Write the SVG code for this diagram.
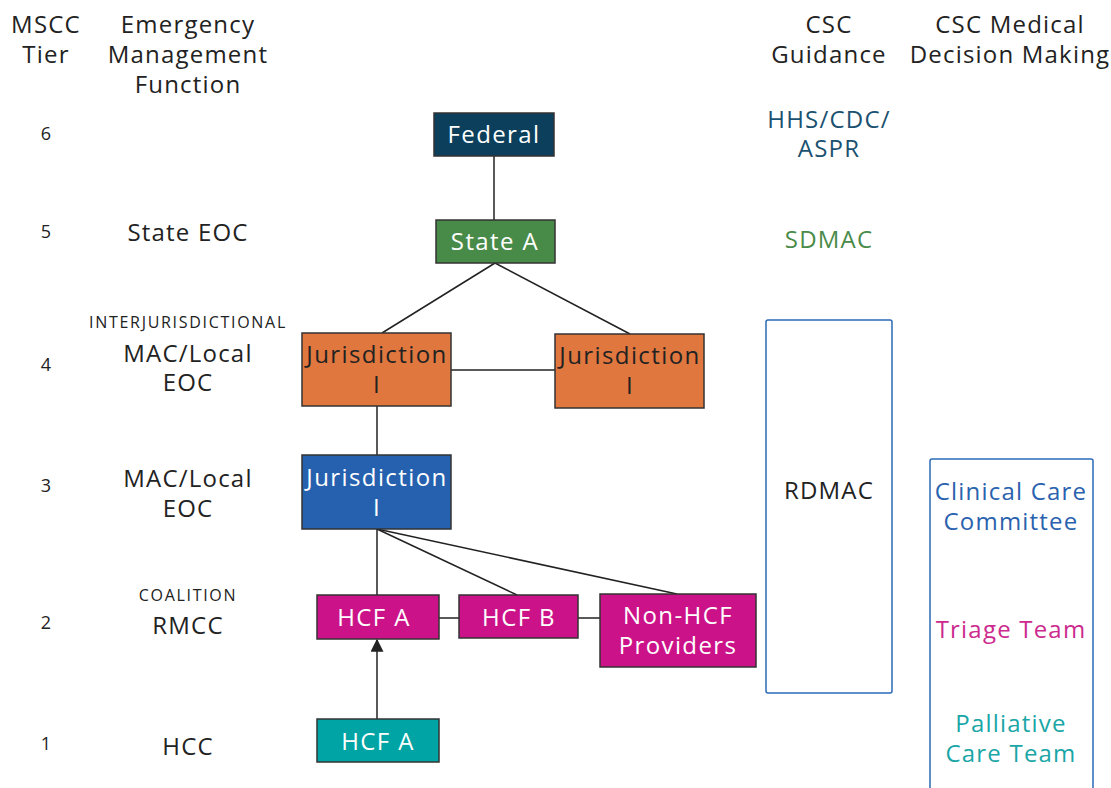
<svg xmlns="http://www.w3.org/2000/svg" width="1111" height="788" viewBox="0 0 1111 788">
<style>
text{font-family:"Open Sans","Liberation Sans",sans-serif;text-anchor:middle}
.h{font-size:24px;fill:#222;letter-spacing:1.2px}
.n{font-size:18px;fill:#222}
.s{font-size:16px;fill:#222;letter-spacing:1.7px}
.b{stroke:#333;stroke-width:1.5}
.lbl{font-size:24px;fill:#fff;letter-spacing:1.4px}
.dk{font-size:24px;fill:#222;letter-spacing:1.4px}
.c{stroke:#222;stroke-width:1.5;fill:none}
.fr{fill:none;stroke:#2a6bb8;stroke-width:1.5}
</style>
<defs>
<marker id="ah" viewBox="0 0 10 10" refX="9" refY="5" markerWidth="13" markerHeight="13" orient="auto" markerUnits="userSpaceOnUse">
<path d="M0,0L10,5L0,10z" fill="#222"/>
</marker>
</defs>
<rect width="1111" height="788" fill="#fff"/>
<g id="headers">
<text class="h" x="46" y="33">MSCC</text>
<text class="h" x="46" y="63">Tier</text>
<text class="h" x="188" y="33">Emergency</text>
<text class="h" x="188" y="63">Management</text>
<text class="h" x="188" y="93">Function</text>
<text class="h" x="829" y="33">CSC</text>
<text class="h" x="829" y="63">Guidance</text>
<text class="h" x="1010" y="33">CSC Medical</text>
<text class="h" x="1010" y="63">Decision Making</text>
</g>
<g id="tiers">
<text class="n" x="46" y="140">6</text>
<text class="n" x="46" y="238">5</text>
<text class="n" x="46" y="371">4</text>
<text class="n" x="46" y="492">3</text>
<text class="n" x="46" y="629">2</text>
<text class="n" x="46" y="750">1</text>
</g>
<g id="functions">
<text class="h" x="188" y="241">State EOC</text>
<text class="s" x="188" y="328">INTERJURISDICTIONAL</text>
<text class="h" x="188" y="362">MAC/Local</text>
<text class="h" x="188" y="391">EOC</text>
<text class="h" x="188" y="487">MAC/Local</text>
<text class="h" x="188" y="517">EOC</text>
<text class="s" x="188" y="601">COALITION</text>
<text class="h" x="188" y="634">RMCC</text>
<text class="h" x="188" y="755">HCC</text>
</g>
<g id="connectors">
<line class="c" x1="494" y1="156" x2="494" y2="220"/>
<line class="c" x1="495" y1="263" x2="382" y2="333"/>
<line class="c" x1="495" y1="263" x2="630" y2="334"/>
<line class="c" x1="451" y1="370" x2="555" y2="370"/>
<line class="c" x1="377" y1="406" x2="377" y2="455"/>
<line class="c" x1="377" y1="529" x2="377" y2="595"/>
<line class="c" x1="377" y1="529" x2="517" y2="595"/>
<line class="c" x1="377" y1="529" x2="677" y2="594"/>
<line class="c" x1="439" y1="618" x2="459" y2="618"/>
<line class="c" x1="578" y1="618" x2="600" y2="618"/>
<line class="c" x1="377" y1="719" x2="377" y2="640" marker-end="url(#ah)"/>
</g>
<g id="federal">
<rect class="b" x="434" y="113" width="120" height="43" fill="#0b3f5c"/>
<text class="lbl" x="494" y="143">Federal</text>
</g>
<g id="stateA">
<rect class="b" x="436" y="220" width="119" height="43" fill="#488b49"/>
<text class="lbl" x="495" y="250">State A</text>
</g>
<g id="jur4a">
<rect class="b" x="302" y="333" width="149" height="73" fill="#e0773f"/>
<text class="dk" x="377" y="363">Jurisdiction</text>
<text class="dk" x="377" y="393">I</text>
</g>
<g id="jur4b">
<rect class="b" x="555" y="334" width="149" height="74" fill="#e0773f"/>
<text class="dk" x="630" y="364">Jurisdiction</text>
<text class="dk" x="630" y="394">I</text>
</g>
<g id="jur3">
<rect class="b" x="302" y="455" width="149" height="74" fill="#2561ae"/>
<text class="lbl" x="377" y="486">Jurisdiction</text>
<text class="lbl" x="377" y="516">I</text>
</g>
<g id="hcfA2">
<rect class="b" x="317" y="595" width="122" height="44" fill="#cc1289"/>
<text class="lbl" x="374" y="626">HCF A</text>
</g>
<g id="hcfB">
<rect class="b" x="459" y="595" width="119" height="43" fill="#cc1289"/>
<text class="lbl" x="519" y="626">HCF B</text>
</g>
<g id="nonhcf">
<rect class="b" x="600" y="594" width="156" height="73" fill="#cc1289"/>
<text class="lbl" x="678" y="624">Non-HCF</text>
<text class="lbl" x="678" y="654">Providers</text>
</g>
<g id="hcfA1">
<rect class="b" x="317" y="719" width="122" height="43" fill="#00a4a4"/>
<text class="lbl" x="378" y="750">HCF A</text>
</g>
<g id="guidance">
<text class="h" x="829" y="128" style="fill:#1b5170">HHS/CDC/</text>
<text class="h" x="829" y="157" style="fill:#1b5170">ASPR</text>
<text class="h" x="829" y="248" style="fill:#4a8b4a">SDMAC</text>
</g>
<g id="rdmac">
<rect class="fr" x="766" y="320" width="126" height="373" rx="2"/>
<text class="h" x="829" y="499">RDMAC</text>
</g>
<g id="medical">
<rect class="fr" x="930" y="459" width="163" height="340" rx="2"/>
<text class="h" x="1011" y="500" style="fill:#2a62ae">Clinical Care</text>
<text class="h" x="1011" y="530" style="fill:#2a62ae">Committee</text>
<text class="h" x="1011" y="638" style="fill:#cc2a8e">Triage Team</text>
<text class="h" x="1011" y="732" style="fill:#1aa6a6">Palliative</text>
<text class="h" x="1011" y="762" style="fill:#1aa6a6">Care Team</text>
</g>
</svg>
